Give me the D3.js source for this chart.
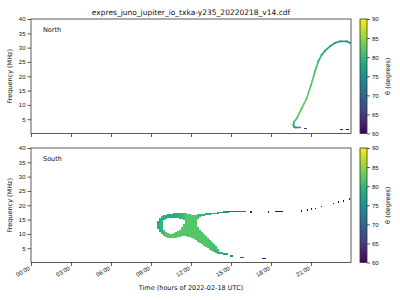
<!DOCTYPE html>
<html>
<head>
<meta charset="utf-8">
<script src="https://cdn.jsdelivr.net/npm/d3@7"></script>
<style>
  body { margin: 0; background: #fff; }
  svg { display: block; font-family: "DejaVu Sans", sans-serif; }
</style>
</head>
<body>
<div id="chart"></div>
<script>
// Text
var title = "expres_juno_jupiter_io_txka-y235_20220218_v14.cdf";
var panelNames = ["North", "South"];
var yLabel = "Frequency (MHz)";
var xLabel = "Time (hours of 2022-02-18 UTC)";
var cbLabel = "\u03b8 (degrees)";

// Ticks
var hourTicks = [0, 3, 6, 9, 12, 15, 18, 21];
var freqTicks = [5, 10, 15, 20, 25, 30, 35, 40];
var thetaTicks = [60, 65, 70, 75, 80, 85, 90];

// North: main track [hour, MHz, theta]
var northTrack = [
  [20.18, 2.1, 74], [19.85, 2.1, 74.5], [19.72, 2.4, 76], [19.68, 3.0, 78],
  [19.73, 4.1, 80.5], [19.93, 5.3, 82], [20.30, 8.8, 82.5], [20.68, 12.3, 82.5],
  [21.00, 16.9, 82], [21.30, 21.7, 81.5], [21.55, 25.2, 80.5], [21.80, 27.5, 79],
  [22.05, 28.9, 77.5], [22.43, 30.5, 76.5], [22.80, 31.6, 75.5], [23.18, 32.2, 75],
  [23.68, 32.2, 75], [23.93, 31.6, 75]
];
// North: short pieces [hourStart, hourEnd, MHz, theta]
var northDashes = [
  [20.48, 20.70, 1.8, 65], [23.18, 23.42, 1.45, 61], [23.63, 23.85, 1.45, 61]
];

// South: filled columns [hour, fLow, fHigh, theta], column width 0.15 h
var southColumns = [
  [9.45, 11.6, 14.4, 78],
  [9.60, 10.5, 15.4, 79],
  [9.75, 9.8, 16.1, 80],
  [9.90, 14.7, 16.5, 78.5], [9.90, 9.3, 11.2, 81],
  [10.05, 15.2, 16.6, 78.5], [10.05, 9.0, 10.5, 82],
  [10.20, 15.4, 16.8, 78.5], [10.20, 8.6, 10.2, 82],
  [10.35, 15.4, 17.0, 78.5], [10.35, 8.5, 10.0, 82],
  [10.50, 15.4, 17.0, 78.5], [10.50, 8.5, 10.0, 82],
  [10.65, 15.4, 17.2, 78.5], [10.65, 8.5, 10.2, 82],
  [10.80, 15.4, 17.2, 79], [10.80, 8.6, 10.5, 82],
  [10.95, 15.4, 17.2, 79.5], [10.95, 8.8, 10.9, 82],
  [11.10, 15.2, 17.2, 79.5], [11.10, 9.0, 11.4, 82],
  [11.25, 15.1, 17.2, 80], [11.25, 9.2, 12.3, 82],
  [11.40, 14.7, 17.2, 80.5], [11.40, 9.2, 13.3, 82],
  [11.55, 9.2, 17.2, 82],
  [11.70, 9.0, 17.0, 82],
  [11.85, 8.8, 16.8, 82],
  [12.00, 8.5, 16.6, 82],
  [12.15, 8.1, 16.5, 82],
  [12.30, 7.8, 16.5, 82],
  [12.45, 15.1, 16.8, 81], [12.45, 7.1, 12.3, 82],
  [12.60, 15.9, 16.9, 80], [12.60, 6.7, 11.2, 82],
  [12.75, 16.1, 17.0, 79.5], [12.75, 6.4, 10.5, 82],
  [12.90, 16.3, 17.0, 79], [12.90, 5.8, 9.8, 82],
  [13.05, 16.5, 17.2, 78.5], [13.05, 5.3, 9.2, 82],
  [13.20, 16.6, 17.2, 78.5], [13.20, 5.0, 8.5, 82],
  [13.35, 16.7, 17.3, 78], [13.35, 4.5, 7.8, 81.5],
  [13.50, 16.8, 17.3, 78], [13.50, 4.1, 7.1, 81.5],
  [13.65, 16.9, 17.4, 78], [13.65, 3.8, 6.4, 81],
  [13.80, 16.9, 17.4, 77.5], [13.80, 3.4, 5.7, 80.5],
  [13.95, 17.0, 17.5, 77.5], [13.95, 3.1, 4.8, 80]
];
// South: short pieces [hourStart, hourEnd, MHz, theta]
var southDashes = [
  [14.10, 14.40, 17.45, 77], [14.40, 14.85, 17.65, 75], [14.85, 16.13, 17.9, 69],
  [16.43, 16.58, 17.65, 62], [17.78, 17.85, 17.65, 61], [18.30, 18.90, 17.9, 61],
  [20.28, 20.35, 18.0, 60], [20.70, 20.77, 18.35, 60], [21.03, 21.10, 18.7, 60],
  [21.33, 21.40, 18.95, 60], [21.78, 21.85, 19.65, 60], [22.65, 22.72, 20.6, 60],
  [23.03, 23.10, 21.05, 60], [23.40, 23.47, 21.55, 60], [23.85, 23.92, 22.1, 60],
  [14.10, 14.40, 3.3, 79], [14.40, 14.78, 2.95, 77], [14.93, 15.15, 2.3, 74],
  [15.68, 15.98, 1.8, 68], [17.30, 17.63, 1.45, 61]
];

var colW = 0.15;

// Layout
var W = 400, H = 300;
var left = 31, plotW = 320, panelH = 114.5;
var panelTops = [19, 148];
var cbX = 360, cbW = 7;

var svg = d3.select("#chart").append("svg")
  .attr("width", W).attr("height", H);

var x = d3.scaleLinear().domain([0, 24]).range([left, left + plotW]);
var color = d3.scaleSequential(d3.interpolateViridis).domain([60, 90]);

function hhmm(h) { return (h < 10 ? "0" : "") + h + ":00"; }

// gradient for colorbars
var grad = svg.append("defs").append("linearGradient")
  .attr("id", "viridis").attr("x1", 0).attr("x2", 0).attr("y1", 1).attr("y2", 0);
d3.range(0, 1.0001, 0.05).forEach(function(t) {
  grad.append("stop").attr("offset", t).attr("stop-color", d3.interpolateViridis(t));
});

panelTops.forEach(function(top, pi) {
  var y = d3.scaleLinear().domain([0, 40]).range([top + panelH, top]);
  var g = svg.append("g");

  g.append("clipPath").attr("id", "clip" + pi).append("rect")
    .attr("x", left).attr("y", top).attr("width", plotW).attr("height", panelH);
  var marks = g.append("g").attr("clip-path", "url(#clip" + pi + ")")
    .attr("shape-rendering", "crispEdges");

  if (pi === 0) {
    var segs = d3.pairs(northTrack);
    marks.selectAll("line.trk").data(segs).enter().append("line")
      .attr("x1", function(d) { return x(d[0][0]); })
      .attr("y1", function(d) { return y(d[0][1]); })
      .attr("x2", function(d) { return x(d[1][0]); })
      .attr("y2", function(d) { return y(d[1][1]); })
      .attr("stroke", function(d) { return color((d[0][2] + d[1][2]) / 2); })
      .attr("stroke-width", 1.7)
      .attr("stroke-linecap", "square")
      .attr("shape-rendering", "auto");
  } else {
    marks.selectAll("rect.col").data(southColumns).enter().append("rect")
      .attr("x", function(d) { return x(d[0]); })
      .attr("width", x(colW) - x(0) + 0.2)
      .attr("y", function(d) { return y(d[2]); })
      .attr("height", function(d) { return y(d[1]) - y(d[2]); })
      .attr("fill", function(d) { return color(d[3]); });
  }

  var dashes = pi === 0 ? northDashes : southDashes;
  marks.selectAll("rect.dash").data(dashes).enter().append("rect")
    .attr("x", function(d) { return x(d[0]); })
    .attr("width", function(d) { return Math.max(1, x(d[1]) - x(d[0])); })
    .attr("y", function(d) { return y(d[2]) - 0.75; })
    .attr("height", 1.5)
    .attr("fill", function(d) { return color(d[3]); });

  // axes
  var yAxis = d3.axisLeft(y).tickValues(freqTicks).tickSize(3.5).tickPadding(2);
  var gy = g.append("g").attr("transform", "translate(" + left + ",0)").call(yAxis);
  var xAxis = d3.axisBottom(x).tickValues(hourTicks).tickSize(3.5).tickPadding(2)
    .tickFormat(pi === 1 ? hhmm : "");
  var gx = g.append("g").attr("transform", "translate(0," + (top + panelH) + ")").call(xAxis);
  [gx, gy].forEach(function(a) {
    a.select(".domain").remove();
    a.selectAll("line").attr("stroke", "#333").attr("stroke-width", 0.8);
    a.selectAll("text").attr("fill", "#111").style("font-size", "6px");
  });
  if (pi === 1) {
    gx.selectAll("text")
      .attr("text-anchor", "end")
      .attr("dy", null).attr("y", 0)
      .attr("transform", "translate(-1,7) rotate(-30)");
  }

  // frame
  g.append("rect").attr("x", left).attr("y", top).attr("width", plotW).attr("height", panelH)
    .attr("fill", "none").attr("stroke", "#333").attr("stroke-width", 0.8);

  g.append("text").attr("x", 43).attr("y", top + 12.5)
    .style("font-size", "6.5px").attr("fill", "#111").text(panelNames[pi]);

  g.append("text")
    .attr("transform", "translate(10," + (top + panelH / 2) + ") rotate(-90)")
    .attr("text-anchor", "middle").attr("dy", "0.35em")
    .style("font-size", "6.5px").attr("fill", "#111").text(yLabel);

  // colorbar
  var cy = d3.scaleLinear().domain([60, 90]).range([top + panelH, top]);
  g.append("rect").attr("x", cbX).attr("y", top).attr("width", cbW).attr("height", panelH)
    .attr("fill", "url(#viridis)").attr("stroke", "#333").attr("stroke-width", 0.8);
  var gc = g.append("g").attr("transform", "translate(" + (cbX + cbW) + ",0)")
    .call(d3.axisRight(cy).tickValues(thetaTicks).tickSize(3).tickPadding(2));
  gc.select(".domain").remove();
  gc.selectAll("line").attr("stroke", "#333").attr("stroke-width", 0.8);
  gc.selectAll("text").attr("fill", "#111").style("font-size", "6px");

  g.append("text")
    .attr("transform", "translate(388," + (top + panelH / 2) + ") rotate(-90)")
    .attr("text-anchor", "middle").attr("dy", "0.35em")
    .style("font-size", "6.5px").attr("fill", "#111").text(cbLabel);
});

svg.append("text").attr("x", left + plotW / 2).attr("y", 15)
  .attr("text-anchor", "middle").style("font-size", "7.5px").attr("fill", "#111").text(title);

svg.append("text").attr("x", left + plotW / 2).attr("y", 290)
  .attr("text-anchor", "middle").style("font-size", "6.5px").attr("fill", "#111").text(xLabel);
</script>
</body>
</html>
